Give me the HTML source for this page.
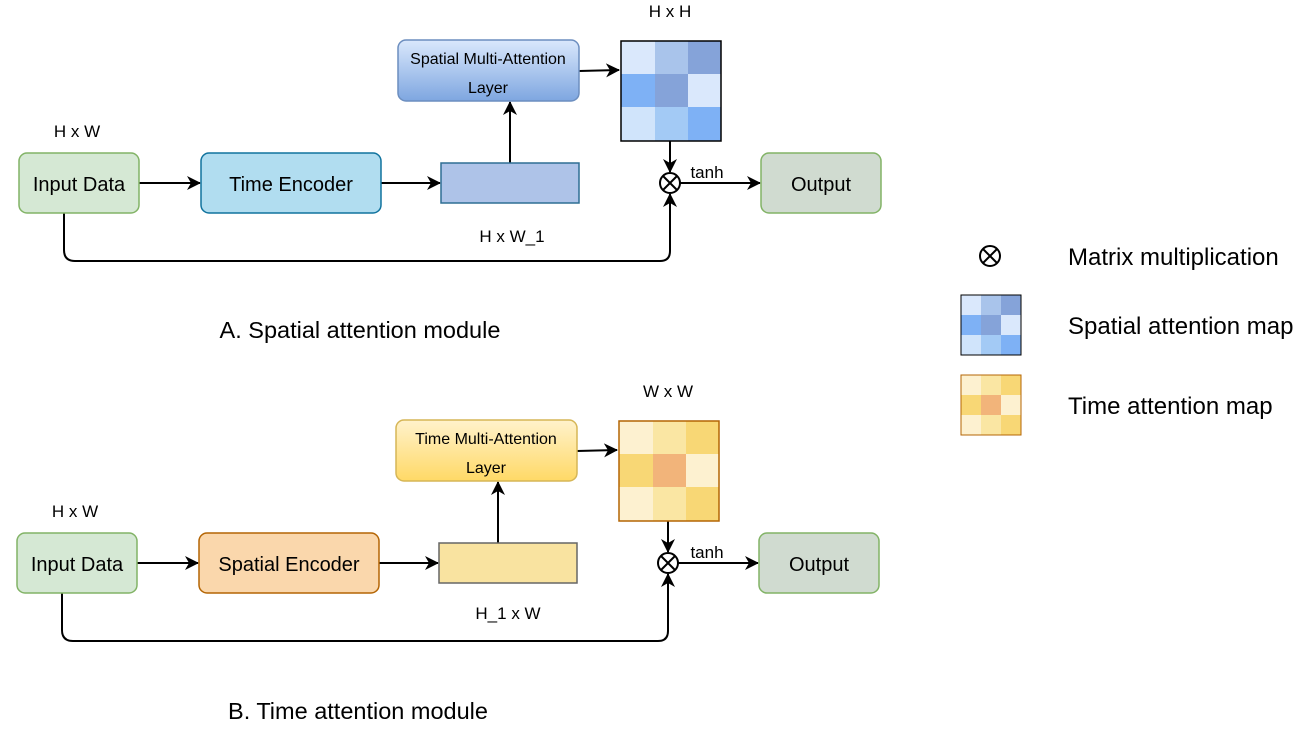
<!DOCTYPE html>
<html><head><meta charset="utf-8"><style>
html,body{margin:0;padding:0;background:#fff;}
svg text{font-family:"Liberation Sans",Helvetica,Arial,sans-serif;fill:#000;}
</style></head><body>
<svg width="1298" height="730" viewBox="0 0 1298 730" xmlns="http://www.w3.org/2000/svg">
<defs>
<linearGradient id="gb" x1="0" y1="0" x2="0" y2="1"><stop offset="0" stop-color="#dae8fc"/><stop offset="1" stop-color="#7ea6e0"/></linearGradient>
<linearGradient id="gy" x1="0" y1="0" x2="0" y2="1"><stop offset="0" stop-color="#fff2cc"/><stop offset="1" stop-color="#ffd966"/></linearGradient>
<marker id="ar" markerWidth="14" markerHeight="14" refX="13" refY="7" orient="auto" markerUnits="userSpaceOnUse"><path d="M0,0 L14,7 L0,14 L4,7 z" fill="#000"/></marker>
</defs>
<g stroke="#000" stroke-width="2" fill="none">
<line x1="139" y1="183" x2="200" y2="183" marker-end="url(#ar)"/>
<line x1="381" y1="183" x2="440" y2="183" marker-end="url(#ar)"/>
<line x1="510" y1="163" x2="510" y2="102" marker-end="url(#ar)"/>
<line x1="579" y1="71" x2="619" y2="70" marker-end="url(#ar)"/>
<line x1="670" y1="141" x2="670" y2="172" marker-end="url(#ar)"/>
<line x1="680" y1="183" x2="760" y2="183" marker-end="url(#ar)"/>
<path d="M64,213 L64,250 Q64,261 75,261 L660,261 Q670,261 670,251 L670,194" marker-end="url(#ar)"/>
<line x1="137" y1="563" x2="198" y2="563" marker-end="url(#ar)"/>
<line x1="379" y1="563" x2="438" y2="563" marker-end="url(#ar)"/>
<line x1="498" y1="543" x2="498" y2="482" marker-end="url(#ar)"/>
<line x1="577" y1="451" x2="617" y2="450" marker-end="url(#ar)"/>
<line x1="668" y1="521" x2="668" y2="552" marker-end="url(#ar)"/>
<line x1="678" y1="563" x2="758" y2="563" marker-end="url(#ar)"/>
<path d="M62,593 L62,630 Q62,641 73,641 L658,641 Q668,641 668,631 L668,574" marker-end="url(#ar)"/>
</g>
<rect x="19" y="153" width="120" height="60" rx="8" fill="#d5e8d4" stroke="#82b366" stroke-width="1.5"/>
<text x="79" y="191" font-size="20" text-anchor="middle">Input Data</text>
<rect x="201" y="153" width="180" height="60" rx="8" fill="#b1ddf0" stroke="#10739e" stroke-width="1.5"/>
<text x="291" y="191" font-size="20" text-anchor="middle">Time Encoder</text>
<rect x="441" y="163" width="138" height="40" fill="#aec3e8" stroke="#2f6e94" stroke-width="1.5"/>
<rect x="398" y="40" width="181" height="61" rx="8" fill="url(#gb)" stroke="#6c8ebf" stroke-width="1.5"/>
<text x="488" y="64" font-size="16" text-anchor="middle">Spatial Multi-Attention</text>
<text x="488" y="93" font-size="16" text-anchor="middle">Layer</text>
<g>
<rect x="621" y="41" width="34" height="33" fill="#dae8fc"/><rect x="655" y="41" width="33" height="33" fill="#a9c4eb"/><rect x="688" y="41" width="33" height="33" fill="#85a3d9"/>
<rect x="621" y="74" width="34" height="33" fill="#7eb1f5"/><rect x="655" y="74" width="33" height="33" fill="#85a3d9"/><rect x="688" y="74" width="33" height="33" fill="#dae8fc"/>
<rect x="621" y="107" width="34" height="34" fill="#d0e4fb"/><rect x="655" y="107" width="33" height="34" fill="#a3caf5"/><rect x="688" y="107" width="33" height="34" fill="#7eb1f5"/>
<rect x="621" y="41" width="100" height="100" fill="none" stroke="#000" stroke-width="1.5"/>
</g>
<circle cx="670" cy="183" r="10" fill="#fff" stroke="#000" stroke-width="2"/>
<path d="M663,176 L677,190 M677,176 L663,190" stroke="#000" stroke-width="2"/>
<rect x="761" y="153" width="120" height="60" rx="8" fill="#d0dbd0" stroke="#82b366" stroke-width="1.5"/>
<text x="821" y="191" font-size="20" text-anchor="middle">Output</text>
<text x="707" y="178" font-size="17" text-anchor="middle">tanh</text>
<text x="77" y="137" font-size="17" text-anchor="middle">H x W</text>
<text x="512" y="242" font-size="17" text-anchor="middle">H x W_1</text>
<text x="670" y="17" font-size="17" text-anchor="middle">H x H</text>
<text x="360" y="338" font-size="23.5" text-anchor="middle">A. Spatial attention module</text>
<rect x="17" y="533" width="120" height="60" rx="8" fill="#d5e8d4" stroke="#82b366" stroke-width="1.5"/>
<text x="77" y="571" font-size="20" text-anchor="middle">Input Data</text>
<rect x="199" y="533" width="180" height="60" rx="8" fill="#fad7ac" stroke="#b46504" stroke-width="1.5"/>
<text x="289" y="571" font-size="20" text-anchor="middle">Spatial Encoder</text>
<rect x="439" y="543" width="138" height="40" fill="#f9e3a0" stroke="#666" stroke-width="1.5"/>
<rect x="396" y="420" width="181" height="61" rx="8" fill="url(#gy)" stroke="#d6b656" stroke-width="1.5"/>
<text x="486" y="444" font-size="16" text-anchor="middle">Time Multi-Attention</text>
<text x="486" y="473" font-size="16" text-anchor="middle">Layer</text>
<g>
<rect x="619" y="421" width="34" height="33" fill="#fdf1d0"/><rect x="653" y="421" width="33" height="33" fill="#fae6a3"/><rect x="686" y="421" width="33" height="33" fill="#f8d775"/>
<rect x="619" y="454" width="34" height="33" fill="#f8d775"/><rect x="653" y="454" width="33" height="33" fill="#f2b47a"/><rect x="686" y="454" width="33" height="33" fill="#fdf1d0"/>
<rect x="619" y="487" width="34" height="34" fill="#fdf1d0"/><rect x="653" y="487" width="33" height="34" fill="#fae6a3"/><rect x="686" y="487" width="33" height="34" fill="#f8d775"/>
<rect x="619" y="421" width="100" height="100" fill="none" stroke="#b46504" stroke-width="1.5"/>
</g>
<circle cx="668" cy="563" r="10" fill="#fff" stroke="#000" stroke-width="2"/>
<path d="M661,556 L675,570 M675,556 L661,570" stroke="#000" stroke-width="2"/>
<rect x="759" y="533" width="120" height="60" rx="8" fill="#d0dbd0" stroke="#82b366" stroke-width="1.5"/>
<text x="819" y="571" font-size="20" text-anchor="middle">Output</text>
<text x="707" y="558" font-size="17" text-anchor="middle">tanh</text>
<text x="75" y="517" font-size="17" text-anchor="middle">H x W</text>
<text x="508" y="619" font-size="17" text-anchor="middle">H_1 x W</text>
<text x="668" y="397" font-size="17" text-anchor="middle">W x W</text>
<text x="358" y="719" font-size="23.5" text-anchor="middle">B. Time attention module</text>
<circle cx="990" cy="256" r="10" fill="#fff" stroke="#000" stroke-width="2"/>
<path d="M983,249 L997,263 M997,249 L983,263" stroke="#000" stroke-width="2"/>
<text x="1068" y="265" font-size="24">Matrix multiplication</text>
<g>
<rect x="961" y="295" width="20" height="20" fill="#dae8fc"/><rect x="981" y="295" width="20" height="20" fill="#a9c4eb"/><rect x="1001" y="295" width="20" height="20" fill="#85a3d9"/>
<rect x="961" y="315" width="20" height="20" fill="#7eb1f5"/><rect x="981" y="315" width="20" height="20" fill="#85a3d9"/><rect x="1001" y="315" width="20" height="20" fill="#dae8fc"/>
<rect x="961" y="335" width="20" height="20" fill="#d0e4fb"/><rect x="981" y="335" width="20" height="20" fill="#a3caf5"/><rect x="1001" y="335" width="20" height="20" fill="#7eb1f5"/>
<rect x="961" y="295" width="60" height="60" fill="none" stroke="#000" stroke-width="1"/>
</g>
<text x="1068" y="334" font-size="24">Spatial attention map</text>
<g>
<rect x="961" y="375" width="20" height="20" fill="#fdf1d0"/><rect x="981" y="375" width="20" height="20" fill="#fae6a3"/><rect x="1001" y="375" width="20" height="20" fill="#f8d775"/>
<rect x="961" y="395" width="20" height="20" fill="#f8d775"/><rect x="981" y="395" width="20" height="20" fill="#f2b47a"/><rect x="1001" y="395" width="20" height="20" fill="#fdf1d0"/>
<rect x="961" y="415" width="20" height="20" fill="#fdf1d0"/><rect x="981" y="415" width="20" height="20" fill="#fae6a3"/><rect x="1001" y="415" width="20" height="20" fill="#f8d775"/>
<rect x="961" y="375" width="60" height="60" fill="none" stroke="#b46504" stroke-width="1"/>
</g>
<text x="1068" y="414" font-size="24">Time attention map</text>
</svg>
</body></html>
